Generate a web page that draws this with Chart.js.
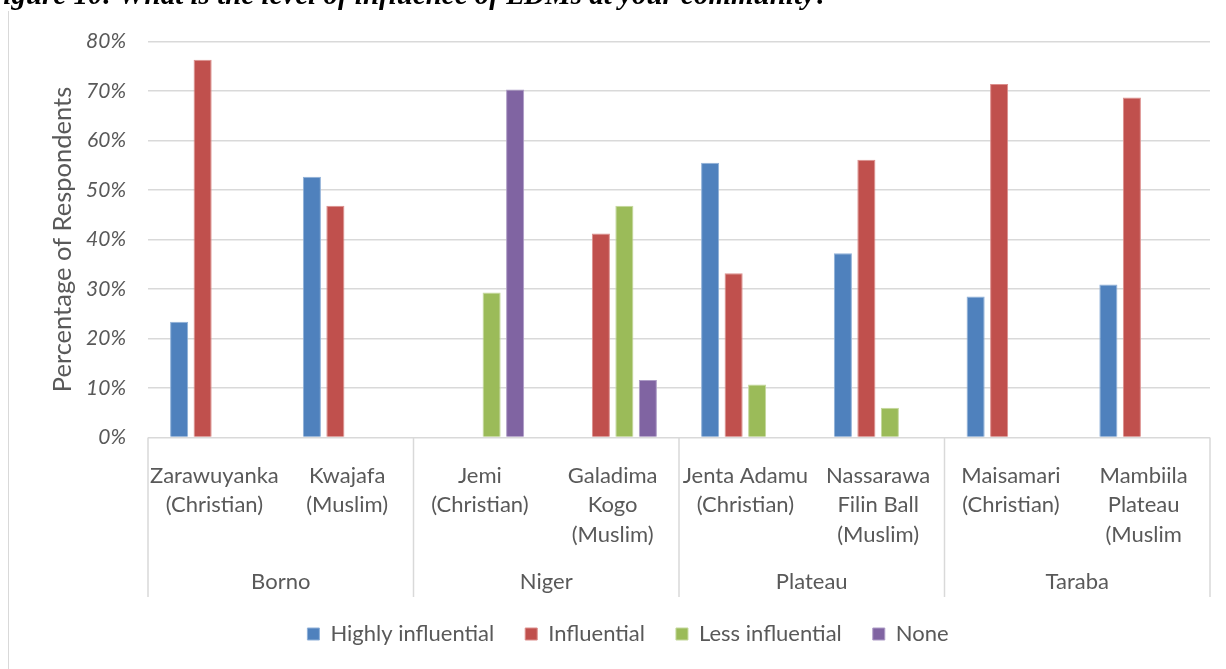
<!DOCTYPE html>
<html>
<head>
<meta charset="utf-8">
<script src="https://cdn.jsdelivr.net/npm/chart.js@4.4.1/dist/chart.umd.min.js"></script>
<style>
  body{margin:0;background:#fff;overflow:hidden;}
  #wrap{position:absolute;left:0;top:0;width:1226px;height:669px;}
  #frame{position:absolute;left:8px;top:11px;width:0;height:660px;border-left:1px solid #d9d9d9;}
  #caption{position:absolute;left:-16px;top:-20px;white-space:nowrap;font:bold italic 29px "Liberation Serif",serif;color:#000;line-height:28px;}
</style>
</head>
<body>
<div id="wrap">
  <canvas id="myChart"></canvas>
</div>
<div id="frame"></div>
<div id="caption">Figure 10: What is the level of influence of LDMs at your community?</div>
<script>
// categories (two levels)
var communities=[
  ['Zarawuyanka','(Christian)'],
  ['Kwajafa','(Muslim)'],
  ['Jemi','(Christian)'],
  ['Galadima','Kogo','(Muslim)'],
  ['Jenta Adamu','(Christian)'],
  ['Nassarawa','Filin Ball','(Muslim)'],
  ['Maisamari','(Christian)'],
  ['Mambiila','Plateau','(Muslim']
];
var states=['Borno','Niger','Plateau','Taraba'];

// values in percent
var highly=[23.4,52.7,null,null,55.5,37.2,28.5,30.9];
var influential=[76.3,46.8,null,41.2,33.2,56.1,71.4,68.7];
var lessInfl=[null,null,29.3,46.8,10.7,6.0,null,null];
var none=[null,null,70.3,11.6,null,null,null,null];

var yTicks=[0,10,20,30,40,50,60,70,80];

var textGrey='#595959';
var fontName='Lato, "Open Sans", sans-serif';

// draws the state row and the separators of the two-level axis
var groupAxis={
  id:'groupAxis',
  afterDraw:function(chart){
    var ctx=chart.ctx;
    var xs=chart.scales.x;
    var half=(xs.getPixelForValue(1)-xs.getPixelForValue(0))/2;
    var top=chart.chartArea.bottom;
    ctx.save();
    ctx.strokeStyle='#d9d9d9';
    ctx.lineWidth=1.5;
    for(var g=0;g<=states.length;g++){
      var x;
      if(g<states.length){
        x=xs.getPixelForValue(g*2)-half;
      }else{
        x=xs.getPixelForValue(g*2-1)+half;
      }
      ctx.beginPath();
      ctx.moveTo(x,top);
      ctx.lineTo(x,597);
      ctx.stroke();
    }
    ctx.fillStyle=textGrey;
    ctx.font='22px '+fontName;
    ctx.textAlign='center';
    ctx.textBaseline='middle';
    for(var i=0;i<states.length;i++){
      var cx=(xs.getPixelForValue(i*2)+xs.getPixelForValue(i*2+1))/2;
      ctx.fillText(states[i],cx,582);
    }
    ctx.restore();
  }
};

function makeSet(label,values,color,edge){
  return {
    label:label,
    data:values,
    backgroundColor:color,
    borderColor:edge,
    borderWidth:1,
    categoryPercentage:0.708,
    barPercentage:0.77
  };
}

const data={
  labels:communities,
  datasets:[
    makeSet('Highly influential',highly,'#4f81bd','#8fb0d8'),
    makeSet('Influential',influential,'#c0504d','#dc8e8c'),
    makeSet('Less influential',lessInfl,'#9bbb59','#c4d89c'),
    makeSet('None',none,'#8064a2','#ad9cc6')
  ]
};

const config={
  type:'bar',
  data,
  plugins:[groupAxis],
  options:{
    responsive:true,
    maintainAspectRatio:false,
    animation:false,
    layout:{padding:{left:46,right:16,top:41.5,bottom:14}},
    scales:{
      x:{
        grid:{display:false},
        border:{display:false},
        ticks:{
          color:textGrey,
          padding:15,
          maxRotation:0,
          autoSkip:false,
          font:{family:fontName,size:22,lineHeight:1.36}
        },
        afterFit:function(s){
          var lh=s.chart.legend?s.chart.legend.height:0;
          s.height=s.chart.height-437.5-lh-14;
        }
      },
      y:{
        min:0,
        max:80,
        afterBuildTicks:function(s){
          s.ticks=yTicks.map(function(v){return {value:v};});
        },
        grid:{color:'#d9d9d9',lineWidth:1.5,drawTicks:false},
        border:{display:false},
        ticks:{
          color:textGrey,
          padding:22,
          font:{family:fontName,size:21,style:'italic'},
          callback:function(v){return v+'%';}
        },
        title:{
          display:true,
          text:'Percentage of Respondents',
          color:textGrey,
          font:{family:fontName,size:25.5},
          padding:{top:1,bottom:0}
        },
        afterFit:function(s){
          s.width=102;
        }
      }
    },
    plugins:{
      legend:{
        position:'bottom',
        labels:{
          color:textGrey,
          boxWidth:12,
          boxHeight:12,
          padding:31,
          font:{family:fontName,size:22}
        }
      },
      tooltip:{enabled:false}
    }
  }
};

const myChart=new Chart(document.getElementById('myChart'),config);
</script>
</body>
</html>
